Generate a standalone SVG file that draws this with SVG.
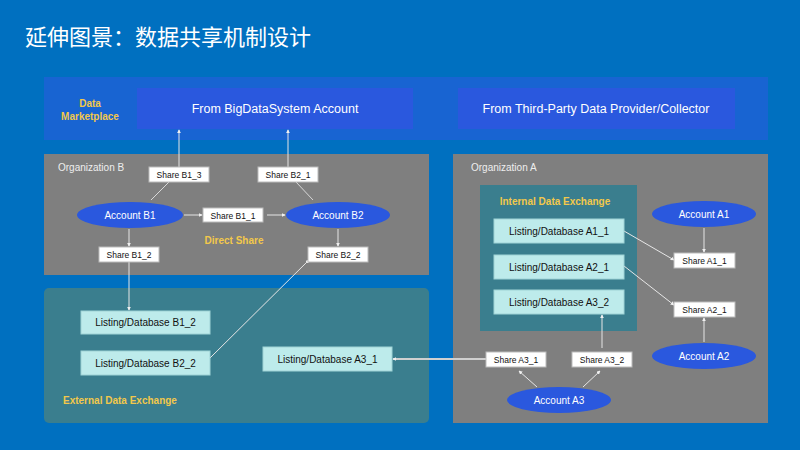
<svg xmlns="http://www.w3.org/2000/svg" width="800" height="450" viewBox="0 0 800 450">
<defs>
<style>
text{font-family:"Liberation Sans",Arial,"Noto Sans CJK SC",sans-serif}
.title{font-family:"Noto Sans CJK SC","Liberation Sans",sans-serif;font-size:22px;fill:#fff}
.band{fill:#1864D2}
.mkt{fill:#2A58DE}
.mktt{font-size:12.5px;fill:#fff;text-anchor:middle}
.org{fill:#7F7F7F}
.orgt{font-size:10px;fill:#eee}
.teal{fill:#3A7E8E}
.yl{font-size:10px;font-weight:bold;fill:#F2C84B}
.share{fill:#fff;stroke:#bbb;stroke-width:1}
.sharet{font-size:8.5px;fill:#111;text-anchor:middle}
.acc{fill:#2A58DE}
.acct{font-size:10px;fill:#fff;text-anchor:middle}
.lst{fill:#BDEBEB;stroke:#9FD3D6;stroke-width:1}
.lstt{font-size:10px;fill:#111;text-anchor:middle}
.c{stroke:#e6e6e6;stroke-width:1;fill:none;marker-end:url(#ah)}
.cn{stroke:#d8d8d8;stroke-width:1;fill:none}
</style>
<marker id="ah" viewBox="0 0 6 6" refX="5" refY="3" markerWidth="4" markerHeight="4" orient="auto" markerUnits="userSpaceOnUse">
<path d="M0,0 L6,3 L0,6 z" fill="#f0f0f0"/>
</marker>
</defs>
<rect width="800" height="450" fill="#0070C0"/>
<text class="title" x="25" y="45">延伸图景：数据共享机制设计</text>

<g id="marketplace">
<rect class="band" x="44" y="77" width="724" height="63"/>
<text class="yl" x="90" y="107" text-anchor="middle">Data</text>
<text class="yl" x="90" y="120" text-anchor="middle">Marketplace</text>
</g>
<g id="from-bigdata">
<rect class="mkt" x="137" y="88" width="276" height="41"/>
<text class="mktt" x="275" y="113">From BigDataSystem Account</text>
</g>
<g id="from-thirdparty">
<rect class="mkt" x="458" y="88" width="277" height="41"/>
<text class="mktt" x="596" y="113">From Third-Party Data Provider/Collector</text>
</g>

<g id="org-b">
<rect class="org" x="44" y="154" width="385" height="121"/>
<text class="orgt" x="58" y="171">Organization B</text>
<text class="yl" x="234" y="244" text-anchor="middle">Direct Share</text>
</g>
<g id="org-a">
<rect class="org" x="453" y="154" width="315" height="269"/>
<text class="orgt" x="471" y="171">Organization A</text>
</g>
<g id="external-exchange">
<rect class="teal" x="44" y="288" width="385" height="135" rx="5"/>
<text class="yl" x="63" y="404">External Data Exchange</text>
</g>
<g id="internal-exchange">
<rect class="teal" x="480" y="185" width="157" height="146"/>
<text class="yl" x="555" y="205" text-anchor="middle">Internal Data Exchange</text>
</g>

<g id="connectors">
<line class="c" x1="179" y1="167" x2="179" y2="130"/>
<line class="c" x1="288" y1="167" x2="288" y2="130"/>
<line class="cn" x1="151" y1="200" x2="169" y2="182"/>
<line class="cn" x1="313" y1="200" x2="296" y2="182"/>
<line class="c" x1="184" y1="215" x2="202" y2="215"/>
<line class="c" x1="267" y1="215" x2="285" y2="215"/>
<line class="c" x1="129" y1="229" x2="129" y2="246"/>
<line class="c" x1="338" y1="229" x2="338" y2="246"/>
<line class="c" x1="129" y1="262" x2="129" y2="310"/>
<line class="c" x1="210" y1="358" x2="309" y2="260"/>
<line class="c" x1="704" y1="228" x2="704" y2="252"/>
<line class="c" x1="624" y1="231" x2="674" y2="260"/>
<line class="c" x1="624" y1="266" x2="674" y2="305"/>
<line class="c" x1="704" y1="342" x2="704" y2="318"/>
<line class="c" x1="537" y1="387" x2="519" y2="371"/>
<line class="c" x1="583" y1="387" x2="600" y2="371"/>
<line class="c" x1="602" y1="348" x2="602" y2="315"/>
<line class="c" x1="486" y1="359" x2="393" y2="359" style="stroke-width:2;stroke:#d0d0d0"/>
</g>

<g id="share-b1-3"><rect class="share" x="149" y="167" width="60" height="15"/><text class="sharet" x="179" y="178">Share B1_3</text></g>
<g id="share-b2-1"><rect class="share" x="258" y="167" width="60" height="15"/><text class="sharet" x="288" y="178">Share B2_1</text></g>
<g id="share-b1-1"><rect class="share" x="203" y="208" width="60" height="14"/><text class="sharet" x="233" y="218.5">Share B1_1</text></g>
<g id="share-b1-2"><rect class="share" x="99" y="247" width="60" height="15"/><text class="sharet" x="129" y="258">Share B1_2</text></g>
<g id="share-b2-2"><rect class="share" x="308" y="247" width="60" height="15"/><text class="sharet" x="338" y="258">Share B2_2</text></g>
<g id="share-a1-1"><rect class="share" x="674" y="253" width="61" height="15"/><text class="sharet" x="704.5" y="264">Share A1_1</text></g>
<g id="share-a2-1"><rect class="share" x="674" y="302" width="61" height="15"/><text class="sharet" x="704.5" y="313">Share A2_1</text></g>
<g id="share-a3-1"><rect class="share" x="486" y="352" width="60" height="15"/><text class="sharet" x="516" y="363">Share A3_1</text></g>
<g id="share-a3-2"><rect class="share" x="572" y="352" width="60" height="15"/><text class="sharet" x="602" y="363">Share A3_2</text></g>

<g id="account-b1"><ellipse class="acc" cx="130" cy="215" rx="53" ry="13"/><text class="acct" x="130" y="219">Account B1</text></g>
<g id="account-b2"><ellipse class="acc" cx="338" cy="215" rx="52" ry="13"/><text class="acct" x="338" y="219">Account B2</text></g>
<g id="account-a1"><ellipse class="acc" cx="704" cy="214" rx="52" ry="13"/><text class="acct" x="704" y="218">Account A1</text></g>
<g id="account-a2"><ellipse class="acc" cx="704" cy="356" rx="52" ry="13"/><text class="acct" x="704" y="360">Account A2</text></g>
<g id="account-a3"><ellipse class="acc" cx="559" cy="400" rx="52" ry="13"/><text class="acct" x="559" y="404">Account A3</text></g>

<g id="listing-b1-2"><rect class="lst" x="81" y="311" width="129" height="23"/><text class="lstt" x="145.5" y="326">Listing/Database B1_2</text></g>
<g id="listing-b2-2"><rect class="lst" x="81" y="351" width="129" height="24"/><text class="lstt" x="145.5" y="367">Listing/Database B2_2</text></g>
<g id="listing-a3-1"><rect class="lst" x="263" y="347" width="129" height="24"/><text class="lstt" x="327.5" y="363">Listing/Database A3_1</text></g>
<g id="listing-a1-1"><rect class="lst" x="494" y="219" width="130" height="24"/><text class="lstt" x="559" y="235">Listing/Database A1_1</text></g>
<g id="listing-a2-1"><rect class="lst" x="494" y="255" width="130" height="24"/><text class="lstt" x="559" y="271">Listing/Database A2_1</text></g>
<g id="listing-a3-2"><rect class="lst" x="494" y="290" width="130" height="24"/><text class="lstt" x="559" y="306">Listing/Database A3_2</text></g>
</svg>
